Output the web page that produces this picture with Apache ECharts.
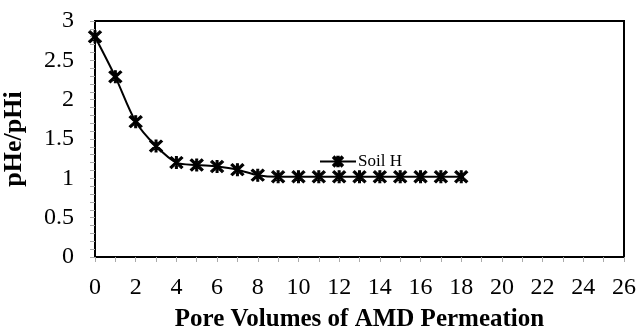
<!DOCTYPE html>
<html>
<head>
<meta charset="utf-8">
<script src="https://cdn.jsdelivr.net/npm/echarts@6/dist/echarts.min.js"></script>
<style>
  html, body { margin: 0; padding: 0; background: #fff; }
  #chart { width: 640px; height: 329px; }
</style>
</head>
<body>
<div id="chart"></div>
<script>
// pore volumes vs pHe/pHi, Soil H
const poreVolumes = [0, 1, 2, 3, 4, 5, 6, 7, 8, 9, 10, 11, 12, 13, 14, 15, 16, 17, 18];
const soilH = [2.8, 2.29, 1.72, 1.41, 1.2, 1.17, 1.15, 1.11, 1.04, 1.02, 1.02, 1.02, 1.02, 1.02, 1.02, 1.02, 1.02, 1.02, 1.02];

// asterisk marker (X + vertical bar)
const asterisk = "path://M8.5 0 L11.5 0 L11.5 20 L8.5 20 Z M0 2.5 L2.5 0 L20 17.5 L17.5 20 Z M17.5 0 L20 2.5 L2.5 20 L0 17.5 Z";

const chart = echarts.init(document.getElementById("chart"));
const font = "'Liberation Serif', 'Times New Roman', serif";

let option = {
  animation: false,
  grid: {
    left: 95,
    right: 16,
    top: 21,
    bottom: 72,
    outerBoundsMode: "none",
    containLabel: false,
    show: true,
    borderColor: "#000",
    borderWidth: 2,
  },
  legend: {
    left: 314,
    top: 148,
    itemWidth: 36,
    itemHeight: 12,
    itemGap: 4,
    textStyle: { fontFamily: font, fontSize: 17, color: "#000", padding: [0, 0, 0, -3] },
    data: ["Soil H"],
  },
  xAxis: {
    type: "value",
    min: 0,
    max: 26,
    interval: 2,
    name: "Pore Volumes of AMD Permeation",
    nameLocation: "middle",
    nameGap: 50,
    nameTextStyle: { fontFamily: font, fontSize: 25, fontWeight: "bold", color: "#000" },
    axisLine: { lineStyle: { color: "#000", width: 2 } },
    axisTick: { show: true, length: 5, lineStyle: { color: "#aaa" } },
    minorTick: { show: true, splitNumber: 2, length: 5, lineStyle: { color: "#aaa" } },
    splitLine: { show: false },
    axisLabel: { fontFamily: font, fontSize: 24, color: "#000", margin: 19 },
  },
  yAxis: {
    type: "value",
    min: 0,
    max: 3,
    interval: 0.5,
    name: "pHe/pHi",
    nameLocation: "middle",
    nameGap: 68,
    nameTextStyle: { fontFamily: font, fontSize: 26, fontWeight: "bold", color: "#000" },
    axisLine: { show: true, lineStyle: { color: "#000", width: 2 } },
    axisTick: { show: true, length: 5, lineStyle: { color: "#aaa" } },
    minorTick: { show: true, splitNumber: 5, length: 5, lineStyle: { color: "#aaa" } },
    splitLine: { show: false },
    axisLabel: { fontFamily: font, fontSize: 24, color: "#000", margin: 21 },
  },
  series: [
    {
      name: "Soil H",
      type: "line",
      data: poreVolumes.map((x, i) => [x, soilH[i]]),
      smooth: 0.3,
      symbol: asterisk,
      symbolSize: [13, 12],
      lineStyle: { color: "#000", width: 2 },
      itemStyle: { color: "#000", borderColor: "#000", borderWidth: 1 },
    },
  ],
};
option && chart.setOption(option);
</script>
</body>
</html>
